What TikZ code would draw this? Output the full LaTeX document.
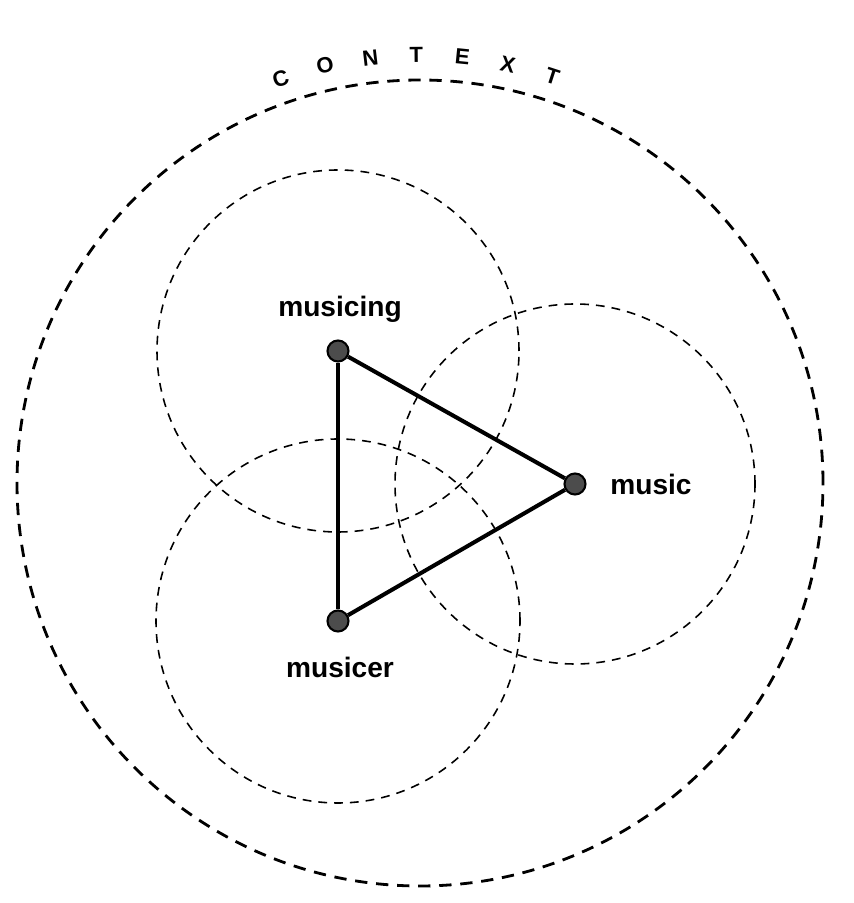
\documentclass[tikz,border=0pt]{standalone}
\usepackage{fontspec}
\setsansfont{Liberation Sans}
\usetikzlibrary{positioning}

\begin{document}
\begin{tikzpicture}[
  x=0.02cm, y=0.02cm,
  every node/.style={font=\sffamily\bfseries},
  ctxring/.style={draw, line width=1.6pt, dash pattern=on 7pt off 5pt},
  zone/.style={draw, line width=0.9pt, dash pattern=on 5pt off 4pt},
  dot/.style={circle, draw, line width=1.2pt, fill=black!70, minimum size=0.42cm, inner sep=0pt},
  term/.style={font=\sffamily\bfseries\fontsize{16}{18}\selectfont, inner sep=0pt},
  ctxletter/.style={font=\sffamily\bfseries\fontsize{12.5}{14}\selectfont, inner sep=0pt},
  edge/.style={line width=2.3pt}
]
\useasboundingbox (0,0) rectangle (854,903);
% Outer context ring
\coordinate (ctr) at (420,420);
\draw[ctxring] (ctr) circle[radius=403];
\foreach \l [count=\k from 0] in {C,O,N,T,E,X,T}
  \node[ctxletter, rotate={19-6.17*\k}] (ctx\k) at ({420+428*cos(109-6.17*\k)}, {420+428*sin(109-6.17*\k)}) {\l};
% Three corners
\node[dot] (musicing) at (338,552) {};
\node[dot] (music) at (575,419) {};
\node[dot] (musicer) at (338,282) {};
% Zones round each corner
\draw[zone] (musicing.center) circle[radius=181];
\draw[zone] (music.center) circle[radius=180];
\draw[zone] (musicer.center) circle[radius=182];
% Triangle
\draw[edge] (musicing) -- (music);
\draw[edge] (music) -- (musicer);
\draw[edge] (musicer) -- (musicing);
% Labels
\node[term, anchor=base] (lmusicing) at (340,586) {musicing};
\node[term, anchor=base west] (lmusic) at (610,408) {music};
\node[term, anchor=base] (lmusicer) at (340,225) {musicer};
\end{tikzpicture}
\end{document}
